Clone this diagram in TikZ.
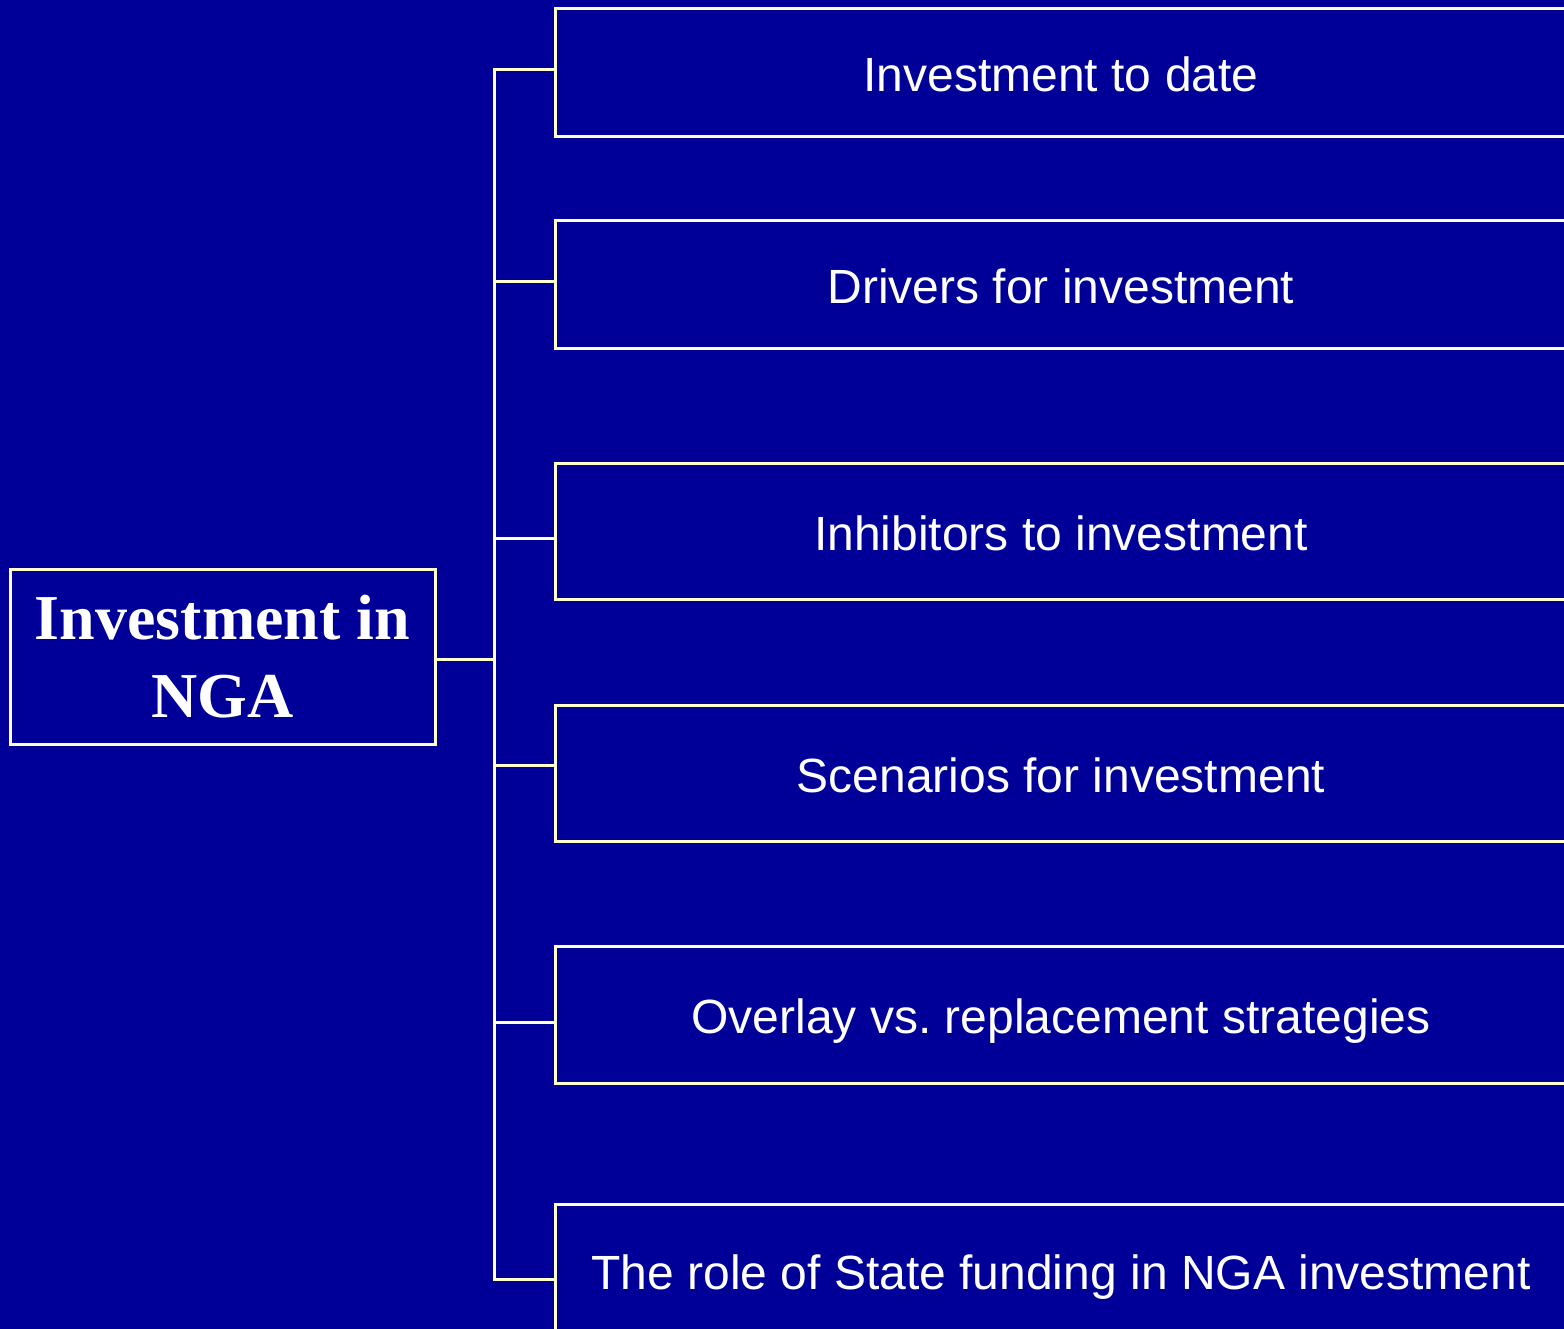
\documentclass[tikz,border=0pt]{standalone}
\usepackage{fontspec}
\setmainfont{Liberation Sans}
\newfontfamily\titlefont{Liberation Serif}
\frenchspacing
\definecolor{bgblue}{HTML}{000099}
\definecolor{linecol}{HTML}{FFFFCC}
\tikzset{
  topic/.style={draw=linecol, line width=3pt, text=white, inner sep=0pt,
    minimum width=1012pt, text height=38pt, text depth=0pt,
    font=\fontsize{48}{57}\selectfont},
  rootbox/.style={draw=linecol, line width=3pt, text=white, inner sep=0pt,
    minimum width=425pt, minimum height=175pt, align=center,
    font=\titlefont\bfseries\fontsize{64}{78}\selectfont},
  conn/.style={draw=linecol, line width=3pt, line join=miter}
}
\begin{document}
\begin{tikzpicture}[x=1pt,y=-1pt]
\useasboundingbox (0,0) rectangle (1564,1329);
\fill[bgblue] (0,0) rectangle (1564,1329);
\clip (0,0) rectangle (1564,1329);

\node[rootbox] (root) at (222.5,656.5) {Investment in\\NGA};

\node[topic, minimum height=128pt] (b1) at (1061,73) {Investment to date};
\node[topic, minimum height=128pt] (b2) at (1061,285) {Drivers for investment};
\node[topic, minimum height=136pt] (b3) at (1061,531) {Inhibitors to investment};
\node[topic, minimum height=136pt] (b4) at (1061,773) {Scenarios for investment};
\node[topic, minimum height=137pt] (b5) at (1061,1014.5) {Overlay vs. replacement strategies};
\node[topic, minimum height=132pt] (b6) at (1061,1270) {The role of State funding in NGA investment};

\coordinate (trunk) at (494,659);
\coordinate (j1) at (494,70);
\coordinate (j2) at (494,282);
\coordinate (j3) at (494,538);
\coordinate (j4) at (494,765);
\coordinate (j5) at (494,1022);
\coordinate (j6) at (494,1279);

\draw[conn] (j1 -| b1.west) -- (j1) -- (j6) -- (j6 -| b6.west);
\draw[conn] (j2) -- (j2 -| b2.west);
\draw[conn] (j3) -- (j3 -| b3.west);
\draw[conn] (j4) -- (j4 -| b4.west);
\draw[conn] (j5) -- (j5 -| b5.west);
\draw[conn] (root.east |- trunk) -- (trunk);
\end{tikzpicture}
\end{document}
